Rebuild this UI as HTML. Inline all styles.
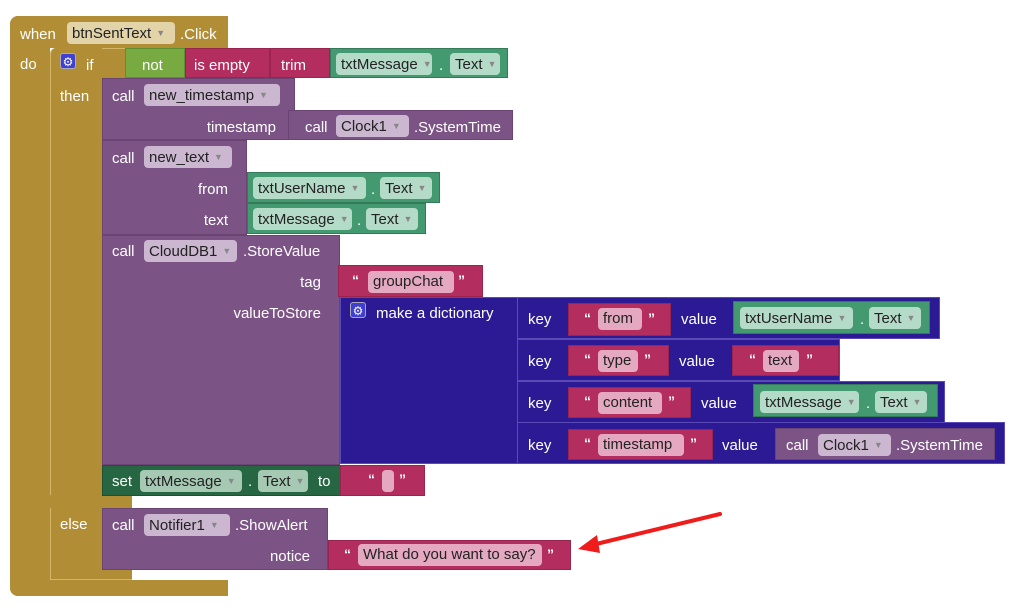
<!DOCTYPE html>
<html><head><meta charset="utf-8"><style>
body{margin:0;width:1017px;height:608px;background:#fff;position:relative;overflow:hidden;font-family:"Liberation Sans",sans-serif}
.b{position:absolute;box-sizing:border-box}
.t{position:absolute;color:#fff;font-size:15px;line-height:24px;white-space:nowrap}
.q{font-size:14px !important;font-weight:bold}
.r{text-align:right}
.f{position:absolute;box-sizing:border-box;border-radius:4px;font-size:15px;line-height:22px;height:22px;padding-left:5px;color:#222;white-space:nowrap}
.f i{font-style:normal;font-size:9px;color:#888;margin-left:5px;vertical-align:2px}
.gold{background:#b18e35}
.pur{background:#7c5385;border:1px solid #6a4473}
.mag{background:#b32d5e;border:1px solid #99254f}
.grn{background:#439970;border:1px solid #347a59}
.dk{background:#2c1a94}
.row{background:#2c1a94;border:1px solid #5a4ab8}
.fg{background:#e3d3a8}
.fp{background:#cbb7d0}
.fgr{background:#b4dac8}
.fm{background:#e4a9c0}
.gear{position:absolute;width:16px;height:16px;background:#3f3fd0;border:1px solid #aab;border-radius:3px;color:#fff;font-size:12px;line-height:16px;text-align:center;box-sizing:border-box}
</style></head><body>
<div class="b gold" style="left:10px;top:16px;width:218px;height:32px;border-radius:8px 0 0 0"></div>
<div class="b gold" style="left:10px;top:16px;width:40px;height:580px;border-radius:8px 0 0 8px"></div>
<div class="b gold" style="left:10px;top:580px;width:218px;height:16px;border-radius:0 0 0 8px"></div>
<div class="t" style="left:20px;top:23px">when</div>
<div class="f fg" style="left:67px;top:22px;width:108px">btnSentText<i>▼</i></div>
<div class="t" style="left:180px;top:23px">.Click</div>
<div class="t" style="left:20px;top:53px">do</div>
<div class="b gold" style="left:50px;top:48px;width:75px;height:30px;border-left:1px solid #d3b667;border-top:1px solid #d3b667;border-radius:6px 0 0 0"></div>
<div class="b gold" style="left:50px;top:48px;width:52px;height:532px;border-left:1px solid #d3b667;border-radius:6px 0 0 6px"></div>
<div class="b gold" style="left:50px;top:495px;width:82px;height:13px"></div>
<div class="b gold" style="left:50px;top:568px;width:82px;height:12px;border-bottom:1px solid #d3b667;border-left:1px solid #d3b667"></div>
<div class="gear" style="left:60px;top:53px">⚙</div>
<div class="t" style="left:86px;top:54px">if</div>
<div class="t" style="left:60px;top:85px">then</div>
<div class="t" style="left:60px;top:513px">else</div>
<div class="b" style="left:125px;top:48px;width:60px;height:30px;background:#77ab41;border:1px solid #5f8f33"></div>
<div class="t" style="left:142px;top:54px">not</div>
<div class="b mag" style="left:185px;top:48px;width:85px;height:30px"></div>
<div class="t" style="left:194px;top:54px">is empty</div>
<div class="b mag" style="left:270px;top:48px;width:60px;height:30px"></div>
<div class="t" style="left:281px;top:54px">trim</div>
<div class="b grn" style="left:330px;top:48px;width:178px;height:30px"></div>
<div class="f fgr" style="left:336px;top:53px;width:96px">txtMessage<i>▼</i></div>
<div class="t" style="left:439px;top:54px">.</div>
<div class="f fgr" style="left:450px;top:53px;width:50px">Text<i>▼</i></div>
<div class="b pur" style="left:102px;top:78px;width:193px;height:62px"></div>
<div class="t" style="left:112px;top:85px">call</div>
<div class="f fp" style="left:144px;top:84px;width:136px">new_timestamp<i>▼</i></div>
<div class="t r" style="left:176px;width:100px;top:116px">timestamp</div>
<div class="b pur" style="left:288px;top:110px;width:225px;height:30px"></div>
<div class="t" style="left:305px;top:116px">call</div>
<div class="f fp" style="left:336px;top:115px;width:73px">Clock1<i>▼</i></div>
<div class="t" style="left:414px;top:116px">.SystemTime</div>
<div class="b pur" style="left:102px;top:140px;width:145px;height:95px"></div>
<div class="t" style="left:112px;top:147px">call</div>
<div class="f fp" style="left:144px;top:146px;width:88px">new_text<i>▼</i></div>
<div class="t r" style="left:128px;width:100px;top:178px">from</div>
<div class="t r" style="left:128px;width:100px;top:209px">text</div>
<div class="b grn" style="left:247px;top:172px;width:193px;height:31px"></div>
<div class="f fgr" style="left:253px;top:177px;width:113px">txtUserName<i>▼</i></div>
<div class="t" style="left:371px;top:178px">.</div>
<div class="f fgr" style="left:380px;top:177px;width:52px">Text<i>▼</i></div>
<div class="b grn" style="left:247px;top:203px;width:179px;height:31px"></div>
<div class="f fgr" style="left:253px;top:208px;width:99px">txtMessage<i>▼</i></div>
<div class="t" style="left:357px;top:209px">.</div>
<div class="f fgr" style="left:366px;top:208px;width:52px">Text<i>▼</i></div>
<div class="b pur" style="left:102px;top:235px;width:238px;height:230px"></div>
<div class="t" style="left:112px;top:240px">call</div>
<div class="f fp" style="left:144px;top:240px;width:93px">CloudDB1<i>▼</i></div>
<div class="t" style="left:243px;top:240px">.StoreValue</div>
<div class="t r" style="left:221px;width:100px;top:271px">tag</div>
<div class="t r" style="left:201px;width:120px;top:302px">valueToStore</div>
<div class="b mag" style="left:338px;top:265px;width:145px;height:32px"></div>
<div class="t q" style="left:352px;top:268px">“</div>
<div class="f fm" style="left:368px;top:271px;width:86px">groupChat</div>
<div class="t q" style="left:458px;top:268px">”</div>
<div class="b dk" style="left:340px;top:297px;width:178px;height:167px;border:1px solid #5a4ab8"></div>
<div class="gear" style="left:350px;top:302px">⚙</div>
<div class="t" style="left:376px;top:302px">make a dictionary</div>
<div class="b row" style="left:517px;top:297px;width:423px;height:42px"></div>
<div class="b row" style="left:517px;top:339px;width:323px;height:42px"></div>
<div class="b row" style="left:517px;top:381px;width:428px;height:42px"></div>
<div class="b row" style="left:517px;top:422px;width:488px;height:42px"></div>
<div class="t" style="left:528px;top:308px">key</div>
<div class="b mag" style="left:568px;top:303px;width:103px;height:33px"></div>
<div class="t q" style="left:584px;top:306px">“</div>
<div class="f fm" style="left:598px;top:308px;width:44px">from</div>
<div class="t q" style="left:648px;top:306px">”</div>
<div class="t" style="left:681px;top:308px">value</div>
<div class="b grn" style="left:733px;top:301px;width:197px;height:33px"></div>
<div class="f fgr" style="left:740px;top:307px;width:113px">txtUserName<i>▼</i></div>
<div class="t" style="left:860px;top:308px">.</div>
<div class="f fgr" style="left:869px;top:307px;width:52px">Text<i>▼</i></div>
<div class="t" style="left:528px;top:350px">key</div>
<div class="b mag" style="left:568px;top:345px;width:101px;height:31px"></div>
<div class="t q" style="left:584px;top:347px">“</div>
<div class="f fm" style="left:598px;top:350px;width:40px">type</div>
<div class="t q" style="left:644px;top:347px">”</div>
<div class="t" style="left:679px;top:350px">value</div>
<div class="b mag" style="left:732px;top:345px;width:107px;height:31px"></div>
<div class="t q" style="left:749px;top:347px">“</div>
<div class="f fm" style="left:763px;top:350px;width:36px">text</div>
<div class="t q" style="left:806px;top:347px">”</div>
<div class="t" style="left:528px;top:392px">key</div>
<div class="b mag" style="left:568px;top:387px;width:123px;height:31px"></div>
<div class="t q" style="left:584px;top:389px">“</div>
<div class="f fm" style="left:598px;top:392px;width:64px">content</div>
<div class="t q" style="left:668px;top:389px">”</div>
<div class="t" style="left:701px;top:392px">value</div>
<div class="b grn" style="left:753px;top:384px;width:185px;height:33px"></div>
<div class="f fgr" style="left:760px;top:391px;width:99px">txtMessage<i>▼</i></div>
<div class="t" style="left:866px;top:392px">.</div>
<div class="f fgr" style="left:875px;top:391px;width:52px">Text<i>▼</i></div>
<div class="t" style="left:528px;top:434px">key</div>
<div class="b mag" style="left:568px;top:429px;width:145px;height:31px"></div>
<div class="t q" style="left:584px;top:431px">“</div>
<div class="f fm" style="left:598px;top:434px;width:86px">timestamp</div>
<div class="t q" style="left:690px;top:431px">”</div>
<div class="t" style="left:722px;top:434px">value</div>
<div class="b pur" style="left:775px;top:428px;width:220px;height:32px"></div>
<div class="t" style="left:786px;top:434px">call</div>
<div class="f fp" style="left:818px;top:434px;width:73px">Clock1<i>▼</i></div>
<div class="t" style="left:896px;top:434px">.SystemTime</div>
<div class="b" style="left:102px;top:465px;width:240px;height:31px;background:#266643;border:1px solid #1d5034"></div>
<div class="t" style="left:112px;top:470px">set</div>
<div class="f fgr" style="left:140px;top:470px;width:102px;background:#a6c9b3">txtMessage<i>▼</i></div>
<div class="t" style="left:248px;top:470px">.</div>
<div class="f fgr" style="left:258px;top:470px;width:50px;background:#a6c9b3">Text<i>▼</i></div>
<div class="t" style="left:318px;top:470px">to</div>
<div class="b mag" style="left:340px;top:465px;width:85px;height:31px"></div>
<div class="t q" style="left:368px;top:467px">“</div>
<div class="f fm" style="left:382px;top:470px;width:12px"></div>
<div class="t q" style="left:399px;top:467px">”</div>
<div class="b pur" style="left:102px;top:508px;width:226px;height:62px"></div>
<div class="t" style="left:112px;top:514px">call</div>
<div class="f fp" style="left:144px;top:514px;width:86px">Notifier1<i>▼</i></div>
<div class="t" style="left:235px;top:514px">.ShowAlert</div>
<div class="t r" style="left:210px;width:100px;top:545px">notice</div>
<div class="b mag" style="left:328px;top:540px;width:243px;height:30px"></div>
<div class="t q" style="left:344px;top:542px">“</div>
<div class="f fm" style="left:358px;top:544px;width:184px">What do you want to say?</div>
<div class="t q" style="left:547px;top:542px">”</div>
<svg class="b" style="left:0;top:0" width="1017" height="608">
<line x1="720" y1="514" x2="592" y2="545" stroke="#f01b1b" stroke-width="4" stroke-linecap="round"/>
<polygon points="578,549 597,535 600,553" fill="#f01b1b"/>
</svg>
</body></html>
